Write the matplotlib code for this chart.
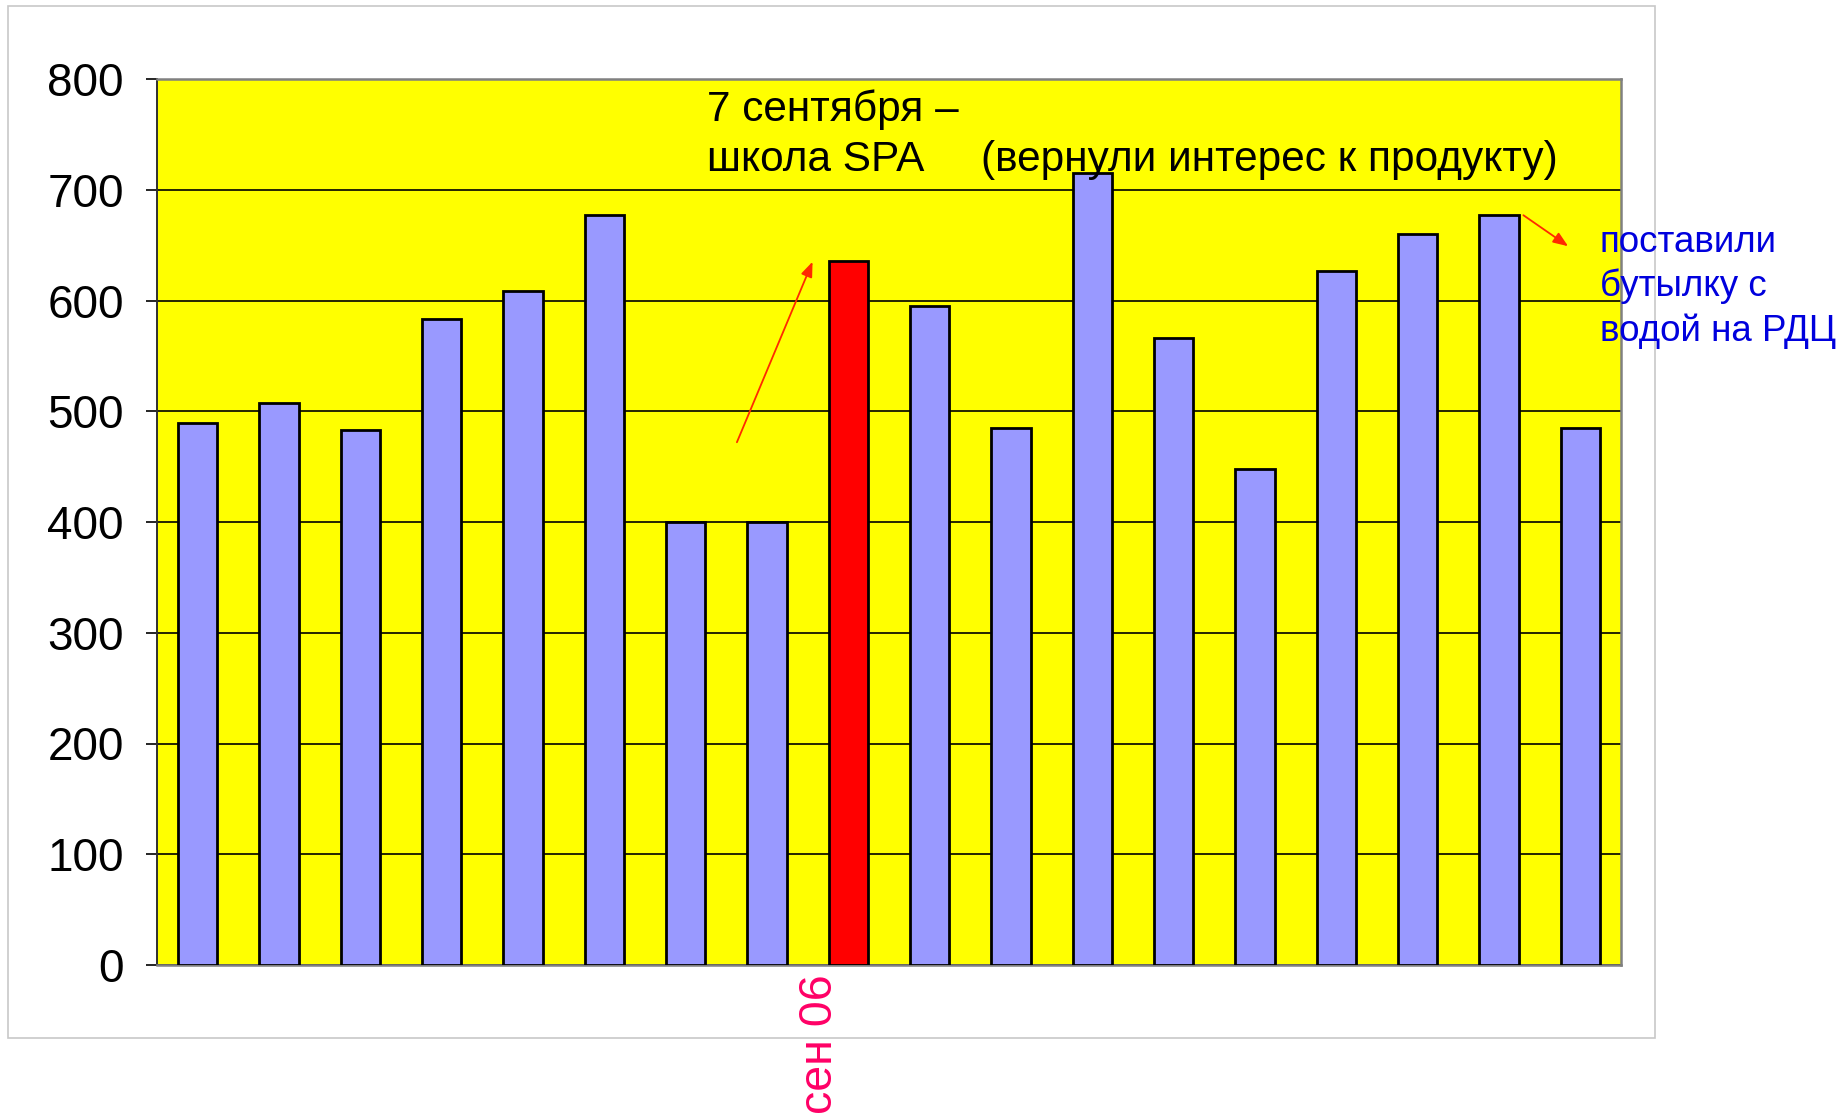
import matplotlib
matplotlib.use("Agg")
from matplotlib import pyplot as plt
from matplotlib.patches import Rectangle
from matplotlib.transforms import ScaledTranslation

plt.rcParams['font.family'] = ['Liberation Sans', 'DejaVu Sans']

# weekly counts, the 9th one is the week of the SPA school
values = [489, 507, 483, 583, 609, 677, 400, 400, 636,
          595, 485, 715, 566, 448, 627, 660, 677, 485]
highlight = 8
tick_label = "сен 06"
y_ticks = [0, 100, 200, 300, 400, 500, 600, 700, 800]

note_line1 = "7 сентября –"
note_line2 = "школа SPA"
note_line3 = "(вернули интерес к продукту)"
side_note = ["поставили", "бутылку с", "водой на РДЦ"]

W, H = 1845, 1119
fig = plt.figure(figsize=(W / 100, H / 100), dpi=100)
fig.patch.set_facecolor("white")

# thin grey frame round the whole chart block
fig.patches.append(Rectangle((8 / W, 1 - 1038 / H), (1655 - 8) / W, (1038 - 6) / H,
                             transform=fig.transFigure, fill=False,
                             edgecolor="#c8c8c8", linewidth=1.2))

ax = fig.add_axes([157 / W, 1 - 965 / H, 1464 / W, 886 / H])
ax.set_facecolor("#ffff00")

x = list(range(len(values)))
colors = ["#ff0000" if i == highlight else "#9999ff" for i in x]
ax.bar(x, values, width=0.48, color=colors, edgecolor="black", linewidth=2.0, zorder=3)

ax.set_xlim(-0.5, len(values) - 0.5)
ax.set_ylim(0, 800)
ax.set_yticks(y_ticks)
ax.yaxis.grid(True, color="black", linewidth=1.2)
ax.set_axisbelow(True)

ax.tick_params(axis="y", direction="out", length=8, width=1.2, color="black",
               labelsize=33, pad=16)
ax.set_xticks([highlight])
ax.set_xticklabels([tick_label], rotation=90, fontsize=33.5, color="#ff0066")
ax.tick_params(axis="x", length=0, pad=7)
for lab in ax.get_xticklabels():
    lab.set_transform(lab.get_transform() + ScaledTranslation(-0.28, 0, fig.dpi_scale_trans))

for side in ["top", "right", "bottom"]:
    ax.spines[side].set_color("#808080")
    ax.spines[side].set_linewidth(1.8)
ax.spines["left"].set_color("#303030")
ax.spines["left"].set_linewidth(1.4)

# captions
fig.text(707 / W, 1 - 121 / H, note_line1, fontsize=30.5, va="baseline", ha="left")
fig.text(707 / W, 1 - 171 / H, note_line2, fontsize=30.5, va="baseline", ha="left")
fig.text(981 / W, 1 - 171 / H, note_line3, fontsize=30.5, va="baseline", ha="left")
for k, line in enumerate(side_note):
    fig.text(1600 / W, 1 - (252 + 44.3 * k) / H, line, fontsize=26.5,
             va="baseline", ha="left", color="#0000dd")

# arrows
arrow_kw = dict(arrowstyle="-|>,head_length=0.9,head_width=0.35", color="#ff2a00",
                lw=1.3, shrinkA=0, shrinkB=0)
ax.annotate("", xy=(7.56, 635), xytext=(6.63, 472), arrowprops=arrow_kw, zorder=4)
ax.annotate("", xy=(16.85, 649), xytext=(16.30, 677), arrowprops=arrow_kw, zorder=4)

fig.savefig("out.png", dpi=100)
